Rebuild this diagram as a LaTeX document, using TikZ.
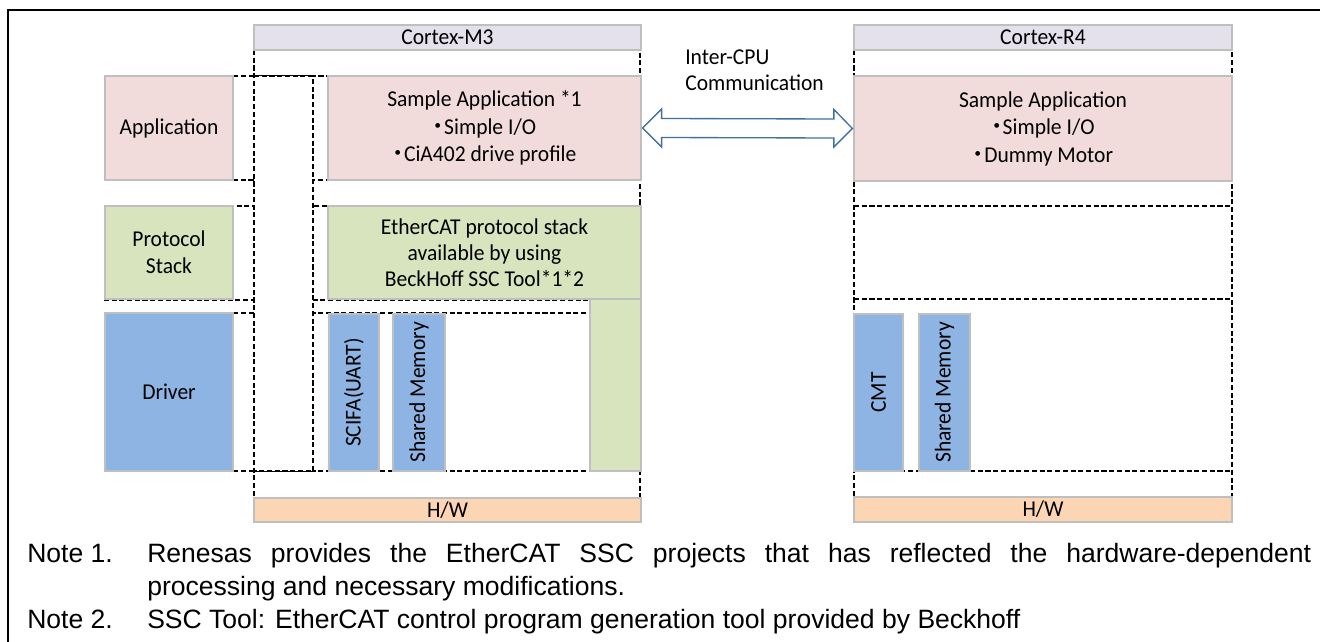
\documentclass[tikz,border=0pt]{standalone}
\usepackage{fontspec}
\setmainfont{Carlito}[FakeStretch=0.95]
\newfontfamily\notefont{Liberation Sans}
\newfontfamily\jpfont{Noto Sans CJK JP}
\usetikzlibrary{fit,calc}
\definecolor{hdrc}{HTML}{E4E0EC}
\definecolor{pinkc}{HTML}{F2DCDB}
\definecolor{greenc}{HTML}{D7E4BD}
\definecolor{bluec}{HTML}{8EB4E3}
\definecolor{peachc}{HTML}{FCD5B5}
\definecolor{edgec}{HTML}{BFBFBF}
\definecolor{arrowc}{HTML}{41719C}
\newcommand\bulmark{{\jpfont\bfseries ･}}
\begin{document}
\begin{tikzpicture}[x=0.75pt,y=-0.75pt,
  font=\fontsize{17}{20.4}\selectfont,
  box/.style={draw=edgec, line width=0.9pt, inner sep=0pt},
  txt/.style={inner sep=0pt, align=center},
  dashbox/.style={draw=black, line width=1.15pt, dash pattern=on 3.8pt off 2pt},
  notestyle/.style={font=\notefont\fontsize{19.9}{24}\selectfont, inner sep=0pt, anchor=base west}]
\useasboundingbox (0,0) rectangle (1320,642);
% frame
\draw[line width=1.6pt] (8,643) -- (8,10) -- (1321,10);
% dashed containers
\draw[dashbox] (254,50) rectangle (640,522);
\draw[dashbox] (854,50) rectangle (1232,522);
% layer rows, Cortex-M3 side
\draw[dashbox] (105,76) rectangle (640,180);
\draw[dashbox] (105,206) rectangle (640,300);
\draw[dashbox] (105,313) rectangle (640,471);
% layer rows, Cortex-R4 side
\draw[dashbox] (854,206) -- (1232,206);
\draw[dashbox] (854,299) -- (1232,299);
\draw[dashbox] (854,471) -- (1232,471);
% empty column
\fill[white] (254,76) rectangle (313,471);
\draw[dashbox] (254,76) -- (313,76) -- (313,471) -- (254,471);
\draw[dashbox, line width=1.4pt] (254,50) -- (254,522);
% headers
\node[box, fill=hdrc, fit={(254,25)(641,50)}] (m3hdr) {};
\node[txt] at (m3hdr) {Cortex-M3};
\node[box, fill=hdrc, fit={(854,25)(1232,50)}] (r4hdr) {};
\node[txt] at (r4hdr) {Cortex-R4};
% layer labels
\node[box, fill=pinkc, fit={(105,76)(233,180)}] (applbl) {};
\node[txt] at (applbl) {Application};
\node[box, fill=greenc, fit={(105,206)(233,299)}] (protlbl) {};
\node[txt] at (protlbl) {Protocol\\Stack};
\node[box, fill=bluec, fit={(105,313)(233,471)}] (drvlbl) {};
\node[txt] at (drvlbl) {Driver};
% Cortex-M3 contents
\node[box, fill=pinkc, fit={(328,76)(641,180)}] (m3app) {};
\node[txt, font=\fontsize{17}{20.6}\selectfont] at (m3app)
  {Sample Application *1\\\bulmark Simple I/O\\\bulmark CiA402 drive profile};
\node[box, fill=greenc, fit={(328,206)(641,299)}] (m3prot) {};
\node[txt, font=\fontsize{17}{19.7}\selectfont] at (m3prot)
  {EtherCAT protocol stack\\available by using\\BeckHoff SSC Tool*1*2};
\node[box, fill=greenc, fit={(590,299)(641,471)}] (m3protx) {};
\node[box, fill=bluec, fit={(329,314)(379,471)}] (scifa) {};
\node[txt, rotate=90] at (scifa) {SCIFA(UART)};
\node[box, fill=bluec, fit={(393,314)(445,471)}] (m3shm) {};
\node[txt, rotate=90] at (m3shm) {Shared Memory};
\node[box, fill=peachc, fit={(254,498)(641,522)}] (m3hw) {};
\node[txt] at (m3hw) {H/W};
% Cortex-R4 contents
\node[box, fill=pinkc, fit={(854,76)(1232,181)}] (r4app) {};
\node[txt, font=\fontsize{17}{20.6}\selectfont] at (r4app)
  {Sample Application\\\bulmark Simple I/O\\\bulmark Dummy Motor};
\node[box, fill=bluec, fit={(854,314)(903,471)}] (cmt) {};
\node[txt, rotate=90] at (cmt) {CMT};
\node[box, fill=bluec, fit={(919,314)(970,471)}] (r4shm) {};
\node[txt, rotate=90] at (r4shm) {Shared Memory};
\node[box, fill=peachc, fit={(854,497)(1232,522)}] (r4hw) {};
\node[txt] at (r4hw) {H/W};
% inter-CPU arrow
\path (m3app.east) ++(1,0) coordinate (aL);
\path (r4app.west) ++(-1,0) coordinate (aR);
\draw[draw=arrowc, fill=white, line width=1pt, line join=miter]
  (aL) -- ++(19,-19) -- ++(0,9.5) -- ($(aR)+(-18.5,-9.5)$) -- ++(0,-9.5)
  -- (aR) -- ++(-18.5,18.5) -- ++(0,-9) -- ($(aL)+(19,9.5)$) -- ++(0,9.5) -- cycle;
\node[anchor=west, align=left, inner sep=0pt, font=\fontsize{17}{19.2}\selectfont] (icc) at (685,70.5) {Inter-CPU\\Communication};
% notes
\node[notestyle] (n1) at (27,562) {Note 1.};
\node[notestyle] (n1a) at (147,562) {\makebox[873pt][s]{Renesas provides the EtherCAT SSC projects that has reflected the hardware-dependent}};
\node[notestyle] (n1b) at (147,595) {processing and necessary modifications.};
\node[notestyle] (n2) at (27,628) {Note 2.};
\node[notestyle] (n2a) at (147,628) {SSC Tool: EtherCAT control program generation tool provided by Beckhoff};
\end{tikzpicture}
\end{document}
